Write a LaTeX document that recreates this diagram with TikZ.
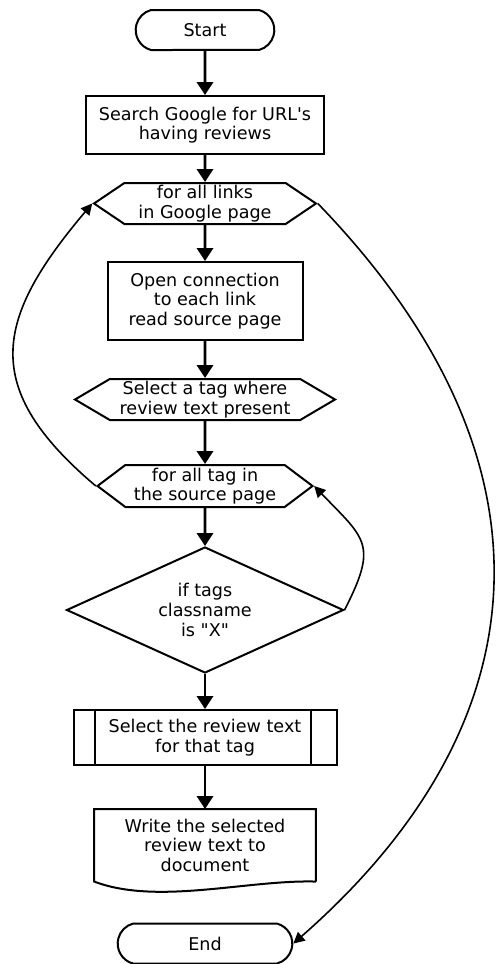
\documentclass[tikz,border=0pt]{standalone}
\usepackage{fontspec}
\setmainfont{DejaVu Sans}
\usetikzlibrary{positioning,arrows.meta,shapes.misc,shapes.symbols,shapes.geometric}

\begin{document}
\begin{tikzpicture}[
		node distance=10mm,
		every node/.style={font=\fontsize{12.5}{14}\selectfont, align=center},
		terminal/.style={
			draw,
			rounded rectangle,
			rounded rectangle arc length=150,
			line width=0.5mm,
			minimum height=10mm
		},
		processbox/.style={draw, rectangle, line width=0.5mm},
		loopbox/.style={
			draw,
			signal,
			signal to=west and east,
			signal pointer angle=68,
			line width=0.5mm,
			minimum height=10.25mm,
			inner sep=0pt
		},
		decision/.style={draw, diamond, aspect=2.2, line width=0.5mm, inner sep=0pt},
		docbox/.style={rectangle, minimum width=55.25mm, minimum height=18mm},
		arrow/.style={-{Triangle[length=3.2mm,width=4mm]}, line width=0.7mm},
		looparrow/.style={-{Triangle[length=2.8mm,width=2.8mm]}, line width=0.4mm}
	]
		\useasboundingbox (0,0) rectangle (124.25mm,-241mm);

		\node[terminal, minimum width=37mm] (start) at (51.25mm,-7.5mm) {Start};
		\node[processbox, minimum width=59.5mm, minimum height=14.5mm, below=11mm of start] (search) {
			Search Google for URL\textquotesingle s\\having reviews
		};
		\node[loopbox, minimum width=55.5mm, below=6.75mm of search] (links) {
			for all links\\in Google page
		};
		\node[processbox, minimum width=48.75mm, minimum height=19.5mm, below=9mm of links] (open) {
			Open connection\\to each link\\read source page
		};
		\node[loopbox, minimum width=65mm, signal pointer angle=61, below=9.25mm of open] (selecttag) {
			Select a tag where\\review text present
		};
		\node[loopbox, minimum width=53.75mm, minimum height=10.5mm, signal pointer angle=74, below=10.75mm of selecttag] (tags) {
			for all tag in\\the source page
		};
		\node[decision, minimum width=69.25mm, minimum height=31.5mm, below=9.5mm of tags] (classname) {
			if tags\\classname\\is \textquotedbl X\textquotedbl
		};
		\node[processbox, minimum width=65.75mm, minimum height=13.75mm, below=8.75mm of classname] (selecttext) {
			Select the review text\\for that tag
		};
		\node[docbox, below=10.75mm of selecttext] (write) {
			Write the selected\\review text to\\document
		};
		\node[terminal, minimum width=46mm, below=10.25mm of write] (end) {End};

		\draw[line width=0.5mm] ([xshift=5.5mm]selecttext.north west) -- ([xshift=5.5mm]selecttext.south west);
		\draw[line width=0.5mm] ([xshift=-6.75mm]selecttext.north east) -- ([xshift=-6.75mm]selecttext.south east);
		\draw[line width=0.5mm] (write.south east) -- (write.north east) -- (write.north west) -- (write.south west)
			.. controls +(15.75mm,-6mm) and +(-17mm,0.5mm) .. (write.south east);

		\draw[arrow] (start) -- (search);
		\draw[arrow] (search) -- (links);
		\draw[arrow] (links) -- (open);
		\draw[arrow] (open) -- (selecttag);
		\draw[arrow] (selecttag) -- (tags);
		\draw[arrow] (tags) -- (classname);
		\draw[arrow] (classname) -- (selecttext);
		\draw[arrow] (selecttext) -- (write);

		\draw[looparrow] (tags.west) .. controls +(-29mm,24.5mm) and +(-24.5mm,-29mm) .. (links.west);
		\draw[looparrow] (classname.east) .. controls +(8.5mm,16.5mm) and +(12.75mm,-13.25mm) .. (tags.east);
		\draw[looparrow] (links.east) .. controls +(60mm,-62mm) and +(65mm,57mm) .. (end.east);
	\end{tikzpicture}
\end{document}
